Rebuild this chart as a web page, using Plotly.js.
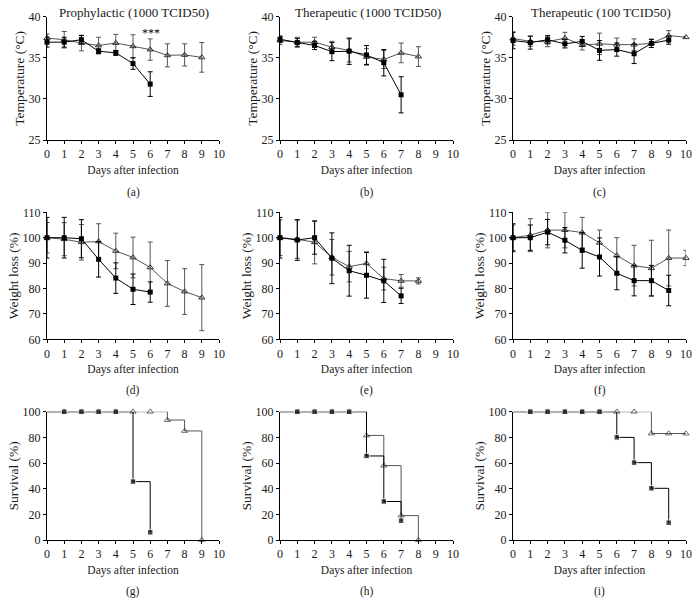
<!DOCTYPE html>
<html><head><meta charset="utf-8">
<script src="https://cdn.plot.ly/plotly-3.0.1.min.js"></script>
<style>html,body{margin:0;padding:0;background:#fff}</style>
</head><body><div id="chart" style="width:698px;height:602px"></div>
<script>
const days = [0,1,2,3,4,5,6,7,8,9,10];
const xTicks = [0,1,2,3,4,5,6,7,8,9,10];
const colTitles = ["Prophylactic (1000 TCID50)", "Therapeutic (1000 TCID50)", "Therapeutic (100 TCID50)"];
const panelLabels = ["(a)","(b)","(c)","(d)","(e)","(f)","(g)","(h)","(i)"];
const xTitle = "Days after infection";
const yTitles = ["Temperature (°C)", "Weight loss (%)", "Survival (%)"];

// Temperature (row 1)
const aSqY = [36.9,36.9,37.2,35.8,35.6,34.3,31.8];
const aSqE = [0.6,0.6,0.5,0.3,0.3,0.7,1.5];
const aTrY = [37.4,37.2,36.8,36.5,36.8,36.4,36.0,35.3,35.35,35.05];
const aTrE = [0.5,1.0,0.95,1.0,1.05,1.4,1.3,1.4,1.35,1.8];
const bSqY = [37.25,36.85,36.5,35.75,35.8,35.35,34.4,30.5];
const bSqE = [0.4,0.5,0.5,1.1,1.6,1.15,1.6,2.2];
const bTrY = [37.1,36.9,36.9,36.3,35.9,35.1,34.8,35.6,35.15];
const bTrE = [0.5,0.6,0.6,0.7,1.4,1.0,1.1,1.2,1.2];
const cSqY = [37.1,36.85,37.2,36.7,37.0,35.9,36.0,35.5,36.75,37.15];
const cSqE = [1.0,0.8,0.5,0.5,0.6,1.2,0.8,1.2,0.5,0.5];
const cTrY = [37.35,37.0,36.95,37.4,36.55,36.7,36.6,36.6,36.75,37.7,37.5];
const cTrE = [0.8,0.6,0.6,0.7,0.6,1.3,0.8,0.7,0.5,0.6,0];

// Weight (row 2)
const dSqY = [100,100,99.6,91.5,84.1,79.7,78.6];
const dSqE = [8,8,7.5,7,6,6,4];
const dTrY = [100,99.4,98.2,98.5,94.8,92.2,88.3,82.0,78.8,76.4];
const dTrE = [6,6.5,7,7,7,8,10,9,9,13];
const eSqY = [100,99.1,100,91.9,87.0,85.2,83.0,77.1];
const eSqE = [8,8,6.5,10,10,9,8.5,3];
const eTrY = [100,99.4,98.2,92.3,88.6,89.9,83.9,83.0,83.0];
const eTrE = [7,7.5,8.5,7,6,4.5,4.5,2.5,1.2];
const fSqY = [100,100,102.2,99,95,92.4,86,83.1,83.1,79.2];
const fSqE = [5.5,5,5,5,7,7.5,6.5,6,6,6];
const fTrY = [100,101,103,103,102,98,93,89,88,92,92];
const fTrE = [5,6.5,7,7,6,5,7,8,11,11,3];

// Survival (row 3)
const gSqY = [100,100,100,100,100,45.5,6];
const gTrY = [100,100,100,100,100,100,100,93.5,85,0];
const hSqY = [100,100,100,100,100,65.5,30,15];
const hTrY = [100,100,100,100,100,81.5,58,19,0];
const iSqY = [100,100,100,100,100,100,80,60.3,40.3,13.5];
const iTrY = [100,100,100,100,100,100,100,100,83,83,83];

const W = 698, H = 602;
const FONT = "Liberation Serif, Times New Roman, serif";
const TXT = "#1a1a1a";
const colPx = [[47,219],[280,453],[513,686]];
const rowPx = [[16.7,140],[212.3,339.3],[411.7,540]];
const yRanges = [[25,40],[60,110],[0,100]];
const yDticks = [5,10,20];

const panels = [
  {sq:aSqY, sqE:aSqE, tr:aTrY, trE:aTrE},
  {sq:bSqY, sqE:bSqE, tr:bTrY, trE:bTrE},
  {sq:cSqY, sqE:cSqE, tr:cTrY, trE:cTrE},
  {sq:dSqY, sqE:dSqE, tr:dTrY, trE:dTrE},
  {sq:eSqY, sqE:eSqE, tr:eTrY, trE:eTrE},
  {sq:fSqY, sqE:fSqE, tr:fTrY, trE:fTrE},
  {sq:gSqY, tr:gTrY, surv:true},
  {sq:hSqY, tr:hTrY, surv:true},
  {sq:iSqY, tr:iTrY, surv:true}
];

const traces = [];
const layout = {
  width: W, height: H, margin:{l:0,r:0,t:0,b:0},
  paper_bgcolor:"#fff", plot_bgcolor:"rgba(0,0,0,0)",
  showlegend:false, font:{family:FONT, size:11, color:TXT},
  annotations: []
};

panels.forEach((p, k) => {
  const r = Math.floor(k/3), c = k%3;
  const n = k+1;
  const xa = n===1 ? "x" : "x"+n, ya = n===1 ? "y" : "y"+n;
  const xk = n===1 ? "xaxis" : "xaxis"+n, yk = n===1 ? "yaxis" : "yaxis"+n;
  layout[xk] = {
    domain:[colPx[c][0]/W, colPx[c][1]/W], anchor: ya,
    range:[0,10], tickvals:xTicks, ticktext:xTicks.map(String),
    showline:true, linecolor:"#000", linewidth:1, ticks:"outside", ticklen:3, tickcolor:"#000",
    showgrid:false, zeroline:false, fixedrange:true, automargin:false,
    tickfont:{family:FONT, size:12, color:TXT},
    title:{text:xTitle, font:{family:FONT, size:11.5, color:TXT}, standoff:5}
  };
  layout[yk] = {
    domain:[1-rowPx[r][1]/H, 1-rowPx[r][0]/H], anchor: xa,
    range:yRanges[r], dtick:yDticks[r], tick0:yRanges[r][0],
    showline:true, linecolor:"#000", linewidth:1, ticks:"outside", ticklen:3, tickcolor:"#000",
    showgrid:false, zeroline:false, fixedrange:true, automargin:false,
    tickfont:{family:FONT, size:12, color:TXT},
    title:{text:yTitles[r], font:{family:FONT, size:13.5, color:TXT}, standoff:0}
  };
  const trX = days.slice(0, p.tr.length), sqX = days.slice(0, p.sq.length);
  const triTrace = {
    x:trX, y:p.tr, xaxis:xa, yaxis:ya, type:"scatter", mode:"lines+markers",
    line:{color:"#555", width:1, shape: p.surv ? "hv" : "linear"},
    marker:{symbol:"triangle-up-open", size: p.surv ? trX.map(d=>d===0?0:5.5) : 5.5, color:"#333", line:{width:1}},
    cliponaxis:false
  };
  if (!p.surv) triTrace.error_y = {type:"data", array:p.trE, visible:true, color:"#555", thickness:1, width:2.5};
  const sqTrace = {
    x:sqX, y:p.sq, xaxis:xa, yaxis:ya, type:"scatter", mode:"lines+markers",
    line:{color:"#000", width:1, shape: p.surv ? "hv" : "linear"},
    marker:{symbol:"square", size: p.surv ? sqX.map(d=>d===0?0:5.5) : 5, color:"#000"},
    cliponaxis:false
  };
  if (!p.surv) sqTrace.error_y = {type:"data", array:p.sqE, visible:true, color:"#000", thickness:1, width:2.5};
  traces.push(triTrace, sqTrace);

  const cx = (colPx[c][0]+colPx[c][1])/2;
  const labY = [192, 390, 591][r];
  layout.annotations.push({
    text:panelLabels[k], xref:"paper", yref:"paper", x:cx/W, y:1-labY/H,
    xanchor:"center", yanchor:"middle", showarrow:false,
    font:{family:FONT, size:11.5, color:TXT}
  });
  if (r===0) {
    layout.annotations.push({
      text:colTitles[c], xref:"paper", yref:"paper", x:(cx+1)/W, y:1-12/H,
      xanchor:"center", yanchor:"middle", showarrow:false,
      font:{family:FONT, size:13, color:TXT}
    });
  }
});

layout.annotations.push({
  text:"***", xref:"x", yref:"y", x:6.05, y:38.0, xanchor:"center", yanchor:"middle",
  showarrow:false, font:{family:FONT, size:12, color:"#000"}
});

Plotly.newPlot("chart", traces, layout, {staticPlot:true, displayModeBar:false});
</script>
</body></html>
